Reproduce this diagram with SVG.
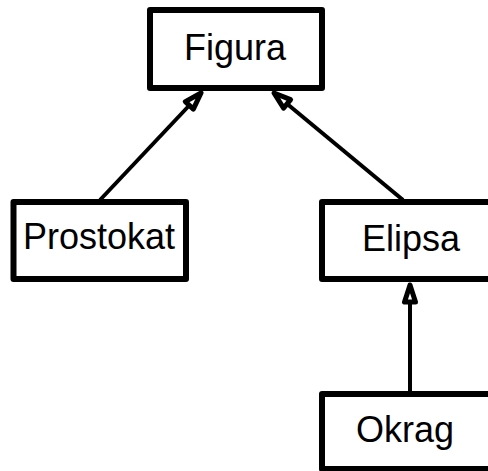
<svg xmlns="http://www.w3.org/2000/svg" width="488" height="471" viewBox="0 0 488 471">
<style>
.box{fill:#fff;stroke:#000;stroke-width:6;stroke-linejoin:round}
.lbl{font-family:"Liberation Sans",Arial,sans-serif;font-size:36px;fill:#000;text-anchor:middle}
.edge{stroke:#000;stroke-width:4;fill:none}
</style>
<defs>
<marker id="tri" markerUnits="userSpaceOnUse" viewBox="-24 -12 28 24" markerWidth="28" markerHeight="24" refX="0" refY="0" orient="auto" overflow="visible">
<path d="M0,0 L-17,-5.5 L-17,5.5 Z" fill="#fff" stroke="#000" stroke-width="5" stroke-linejoin="round"/>
</marker>
</defs>
<rect width="488" height="471" fill="#fff"/>
<g id="connectors">
<line class="edge" x1="100" y1="200" x2="201" y2="93" marker-end="url(#tri)"/>
<line class="edge" x1="403" y1="200" x2="274" y2="93" marker-end="url(#tri)"/>
<line class="edge" x1="410" y1="392" x2="410" y2="285" marker-end="url(#tri)"/>
</g>
<g id="figura">
<rect class="box" x="150" y="10" width="172" height="78"/>
<text class="lbl" x="235" y="60">Figura</text>
</g>
<g id="prostokat">
<rect class="box" x="13.5" y="202" width="172.5" height="77"/>
<text class="lbl" x="99" y="249">Prostokat</text>
</g>
<g id="elipsa">
<rect class="box" x="322" y="202" width="178" height="77"/>
<text class="lbl" x="411" y="251">Elipsa</text>
</g>
<g id="okrag">
<rect class="box" x="322" y="394" width="172" height="75"/>
<text class="lbl" x="405" y="442">Okrag</text>
</g>
</svg>
